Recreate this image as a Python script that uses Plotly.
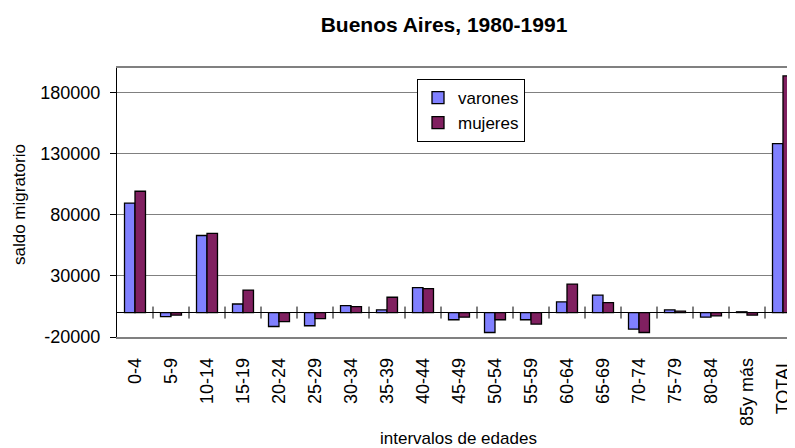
import plotly.graph_objects as go

categorias = ["0-4", "5-9", "10-14", "15-19", "20-24", "25-29", "30-34", "35-39",
              "40-44", "45-49", "50-54", "55-59", "60-64", "65-69", "70-74",
              "75-79", "80-84", "85y más", "TOTAL"]
varones = [89500, -3300, 63000, 7000, -11400, -10800, 5700, 2200, 20300, -5900,
           -16300, -5900, 8700, 14200, -13500, 2200, -3800, 600, 138200]
mujeres = [99200, -2100, 64800, 18400, -7500, -4900, 4900, 12500, 19500, -3800,
           -5900, -9400, 23300, 8100, -16300, 1100, -2700, -2100, 193500]
y_ticks = [-20000, 30000, 80000, 130000, 180000]
y_tick_text = ["-20000", "30000", "80000", "130000", "180000"]

FONT = "Arial, Liberation Sans, sans-serif"
# the page places the figure 8px from the top-left corner; coordinates below are figure coords
W, H = 795, 440
ML, MT, MB, MR = 109, 60, 111, 2
Y_MIN, Y_MAX = -20000, 200000
plot_h = H - MT - MB
plot_w = W - ML - MR
units_per_px = (Y_MAX - Y_MIN) / plot_h

fig = go.Figure()
fig.add_trace(go.Bar(x=categorias, y=varones, name="varones",
                     marker=dict(color="#8080FF", line=dict(color="black", width=1.3))))
fig.add_trace(go.Bar(x=categorias, y=mujeres, name="mujeres",
                     marker=dict(color="#802060", line=dict(color="black", width=1.3))))

# category boundary tick marks crossing the zero line
shapes = []
for i in range(len(categorias) - 1):
    shapes.append(dict(type="line", xref="x", yref="y", x0=i + 0.5, x1=i + 0.5,
                       y0=-6 * units_per_px, y1=6 * units_per_px,
                       line=dict(color="black", width=1)))

fig.update_layout(
    width=W, height=H,
    margin=dict(l=ML, r=MR, t=MT, b=MB, pad=0),
    paper_bgcolor="white", plot_bgcolor="white",
    barmode="group", bargap=0.417, bargroupgap=0,
    font=dict(family=FONT, size=18, color="black"),
    title=dict(text="<b>Buenos Aires, 1980-1991</b>", x=436 / W, xanchor="center",
               xref="container", y=1 - 17 / H, yanchor="middle",
               font=dict(family=FONT, size=21, color="black")),
    legend=dict(x=(409 - ML) / plot_w, y=(H - MB - 71) / plot_h, xanchor="left", yanchor="top",
                bgcolor="white", bordercolor="black", borderwidth=1,
                font=dict(family=FONT, size=17, color="black")),
    xaxis=dict(range=[-0.5, len(categorias) - 0.5], showgrid=False, showline=True,
               linecolor="#808080", linewidth=1.5, mirror=True, ticks="",
               tickangle=-90, ticklabelstandoff=12, tickfont=dict(size=18),
               fixedrange=True),
    yaxis=dict(range=[Y_MIN, Y_MAX], tickvals=y_ticks, ticktext=y_tick_text,
               showgrid=True, gridcolor="#808080", gridwidth=1,
               showline=True, linecolor="black", linewidth=1.2,
               ticks="outside", ticklen=6, tickcolor="black", ticklabelstandoff=6,
               zeroline=True, zerolinecolor="black", zerolinewidth=1.2,
               tickfont=dict(size=18)),
    shapes=shapes,
    annotations=[
        dict(text="saldo migratorio", xref="paper", yref="paper",
             x=(11 - ML) / plot_w, y=(H - MB - 197) / plot_h, textangle=-90,
             showarrow=False, xanchor="center", yanchor="middle",
             font=dict(family=FONT, size=17, color="black")),
        dict(text="intervalos de edades", xref="paper", yref="paper",
             x=(450 - ML) / plot_w, y=(H - MB - 430) / plot_h,
             showarrow=False, xanchor="center", yanchor="middle",
             font=dict(family=FONT, size=17, color="black")),
    ],
)

fig.write_html("out.html")
